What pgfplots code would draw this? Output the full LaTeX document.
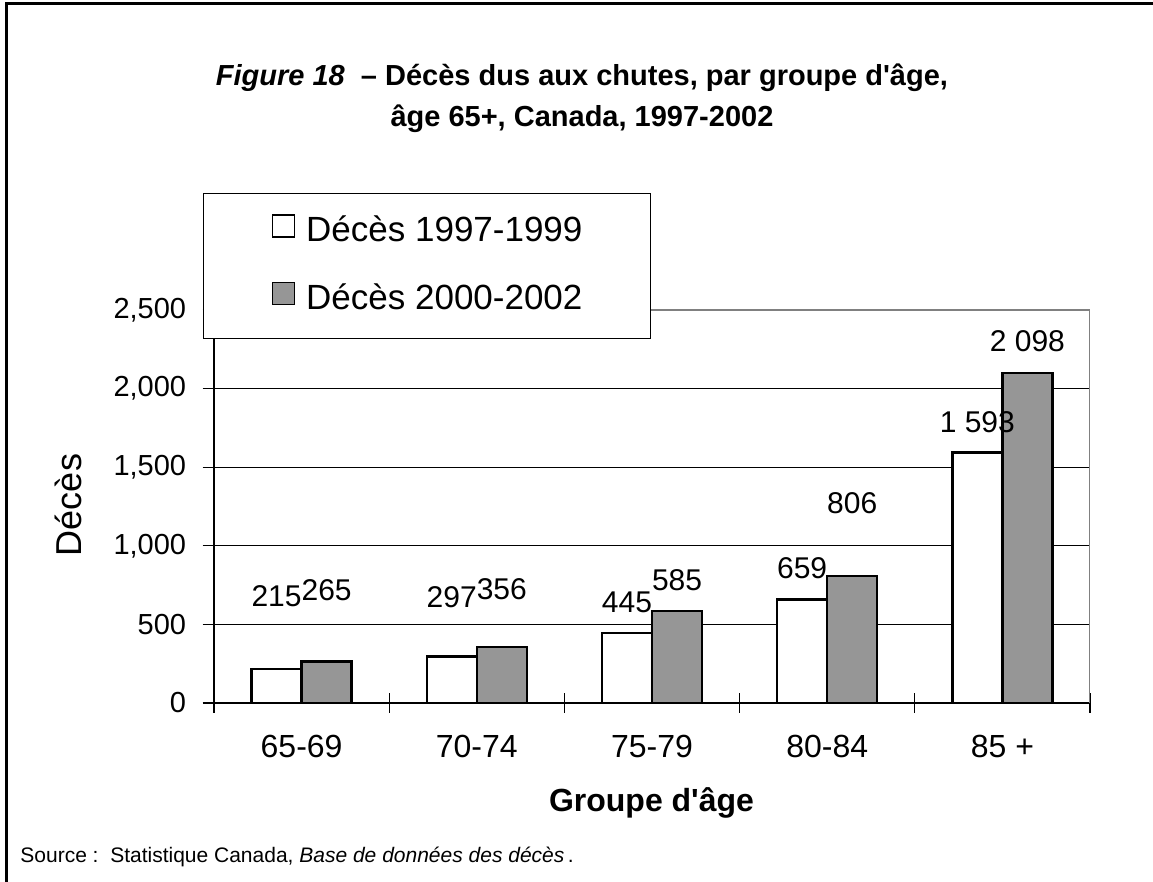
\documentclass[border=0pt]{standalone}
\usepackage{fontspec}
\setmainfont{Liberation Sans}
\usepackage{pgfplots}
\pgfplotsset{compat=1.18}
\definecolor{barg}{HTML}{969696}
\definecolor{frameg}{HTML}{808080}
\begin{document}
\begin{tikzpicture}[x=1pt,y=1pt]
\useasboundingbox (0,0) rectangle (576.5,441);
\draw[line width=1.5pt] (3.25,0) -- (3.25,439) -- (576.5,439);
\node[font=\fontsize{14.5}{17}\selectfont\bfseries, anchor=base] at (291,398) {\textit{Figure 18}\ \ – Décès dus aux chutes, par groupe d\textquotesingle âge,};
\node[font=\fontsize{14.5}{17}\selectfont\bfseries, anchor=base] at (291,377.5) {âge 65+, Canada, 1997-2002};
\node[rotate=90, anchor=base, font=\fontsize{18}{20}\selectfont] at (41,188.5) {Décès};
\node[anchor=base, font=\fontsize{16}{18}\selectfont\bfseries] at (325.75,35) {Groupe d\textquotesingle âge};
\node[anchor=base west, font=\fontsize{10.5}{12}\selectfont, inner sep=0pt] at (10,9.5) {Source :\ \ Statistique Canada, \textit{Base de données des décès}\,.};
\begin{axis}[
  at={(107pt,89.5pt)}, anchor=south west, scale only axis,
  width=438pt, height=196.5pt,
  ybar=0pt, bar width=25pt,
  xmin=-0.5, xmax=4.5, ymin=0, ymax=2500,
  axis x line*=bottom, axis y line*=left,
  axis line style={black, line width=0.8pt},
  xtick={0,1,2,3,4},
  xticklabels={65-69,70-74,75-79,80-84,85 +},
  minor xtick={-0.5,0.5,1.5,2.5,3.5,4.5},
  ytick={0,500,1000,1500,2000,2500},
  yticklabels={0,500,{1,000},{1,500},{2,000},{2,500}},
  tick align=center,
  major tick length=11.5pt, minor tick length=10pt,
  major x tick style={draw=none},
  minor x tick style={black, line width=0.6pt},
  major y tick style={black, line width=0.6pt},
  ymajorgrids, major grid style={black, line width=0.5pt},
  xticklabel style={font=\fontsize{16}{18}\selectfont, inner sep=0pt, anchor=north, yshift=-10pt},
  yticklabel style={font=\fontsize{14.5}{17}\selectfont, inner sep=0pt, anchor=east, xshift=-8pt},
  legend image code/.code={\draw[#1, line width=0.8pt] (0pt,-2pt) rectangle (11pt,9pt);},
  legend style={at={(-0.01256,1.2977)}, anchor=north west, draw=black, line width=0.6pt, fill=white,
    font=\fontsize{17.5}{21}\selectfont, inner xsep=34pt, inner ysep=10.25pt, row sep=16pt,
    nodes={inner sep=0pt, text height=13pt, text depth=4pt},
    /tikz/every odd column/.append style={column sep=5.5pt}},
  legend cell align=left,
]
\addplot[fill=white, draw=black, line width=1.2pt] coordinates {(0,215) (1,297) (2,445) (3,659) (4,1593)};
\addplot[fill=barg, draw=black, line width=1.2pt] coordinates {(0,265) (1,356) (2,585) (3,806) (4,2098)};
\legend{Décès 1997-1999, Décès 2000-2002}
\draw[frameg, line width=0.9pt] (rel axis cs:0,1) -- (rel axis cs:1,1) -- (rel axis cs:1,0);
\begin{scope}[every node/.style={font=\fontsize{15}{17}\selectfont, inner sep=0pt}]
\node at (axis cs:-0.1429,682) {215};
\node at (axis cs:0.1429,717) {265};
\node at (axis cs:0.8571,672) {297};
\node at (axis cs:1.1429,726) {356};
\node at (axis cs:1.8571,643) {445};
\node at (axis cs:2.1429,783) {585};
\node at (axis cs:2.8571,860) {659};
\node at (axis cs:3.1429,1274) {806};
\node at (axis cs:3.8571,1787) {1 593};
\node at (axis cs:4.1429,2299) {2 098};
\end{scope}
\end{axis}
\end{tikzpicture}
\end{document}
